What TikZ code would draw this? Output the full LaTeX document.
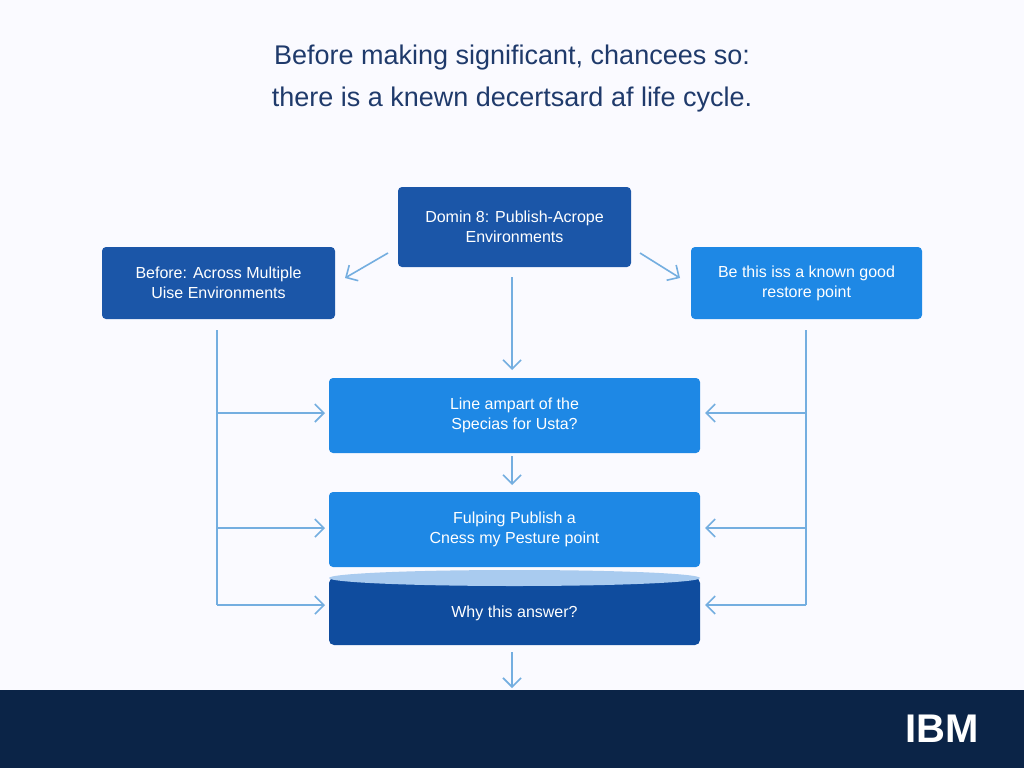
\documentclass[tikz,border=0pt]{standalone}
\usepackage{fontspec}
\setmainfont{Liberation Sans}
\usetikzlibrary{positioning,arrows.meta,shapes.geometric}
\definecolor{navy}{HTML}{0B2447}
\definecolor{titleblue}{HTML}{1F3A6B}
\definecolor{darkbox}{HTML}{1B56A8}
\definecolor{brightbox}{HTML}{1E88E5}
\definecolor{cylblue}{HTML}{0F4C9E}
\definecolor{cyltop}{HTML}{A9CBEF}
\definecolor{linkblue}{HTML}{74AEE0}
\tikzset{box/.style={rounded corners=4pt,text=white,align=center,font=\fontsize{16}{20}\selectfont,inner sep=0pt}}
\tikzset{link/.style={linkblue,line width=1.6pt,-{Straight Barb[length=9pt,width=18pt]}}}
\tikzset{rail/.style={linkblue,line width=1.6pt}}
\begin{document}
\begin{tikzpicture}[x=1pt,y=-1pt]
      \useasboundingbox (0,0) rectangle (1024,768);
      \fill[blue!2] (0,0) rectangle (1024,768);
      \fill[navy] (0,690) rectangle (1024,768);
      \node[white,font=\bfseries\fontsize{40}{40}\selectfont] (ibm) at (942,729) {IBM};
      \node[titleblue,align=center,font=\fontsize{27}{42}\selectfont] (title) at (512,79) {Before making significant, chancees so:\\ there is a knewn decertsard af life cycle.};
      % boxes
      \node[box,fill=darkbox,minimum width=233,minimum height=80] (top) at (514.5,227) {Domin 8: Publish-Acrope\\Environments};
      \node[box,fill=darkbox,minimum width=233,minimum height=72] (left) at (218.5,283) {Before: Across Multiple\\Uise Environments};
      \node[box,fill=brightbox,minimum width=231,minimum height=72] (right) at (806.5,283) {Be this iss a known good\\restore point};
      \node[box,fill=brightbox,minimum width=371,minimum height=75] (mid) at (514.5,415.5) {Line ampart of the\\Specias for Usta?};
      \node[box,fill=brightbox,minimum width=371,minimum height=75] (low) at (514.5,529.5) {Fulping Publish a\\Cness my Pesture point};
      \fill[cylblue,rounded corners=5pt] (329,578) rectangle (700,645);
      \fill[cyltop] (514.5,578) ellipse (185.5 and 8);
      \node[white,font=\fontsize{16}{20}\selectfont] (why) at (514.5,613) {Why this answer?};
      % connector ends
      \coordinate (tl) at (388,253); \coordinate (le) at (345,278);
      \coordinate (tr) at (640,253); \coordinate (re) at (680,278);
      \coordinate (ts) at (512,277); \coordinate (mn) at (512,370);
      \coordinate (ms) at (512,456); \coordinate (ln) at (512,485);
      \coordinate (cs) at (512,652); \coordinate (bb) at (512,688);
      \coordinate (lt) at (217,330); \coordinate (lb) at (217,605);
      \coordinate (rt) at (806,330); \coordinate (rb) at (806,605);
      % connectors
      \draw[link] (tl) -- (le);
      \draw[link] (tr) -- (re);
      \draw[link] (ts) -- (mn);
      \draw[link] (ms) -- (ln);
      \draw[link] (cs) -- (bb);
      \draw[rail] (lt) -- (lb);
      \draw[rail] (rt) -- (rb);
      \foreach \y in {413,528,605}{
        \draw[link] (217,\y) -- (325,\y);
        \draw[link] (806,\y) -- (705,\y);
      }
\end{tikzpicture}
\end{document}
